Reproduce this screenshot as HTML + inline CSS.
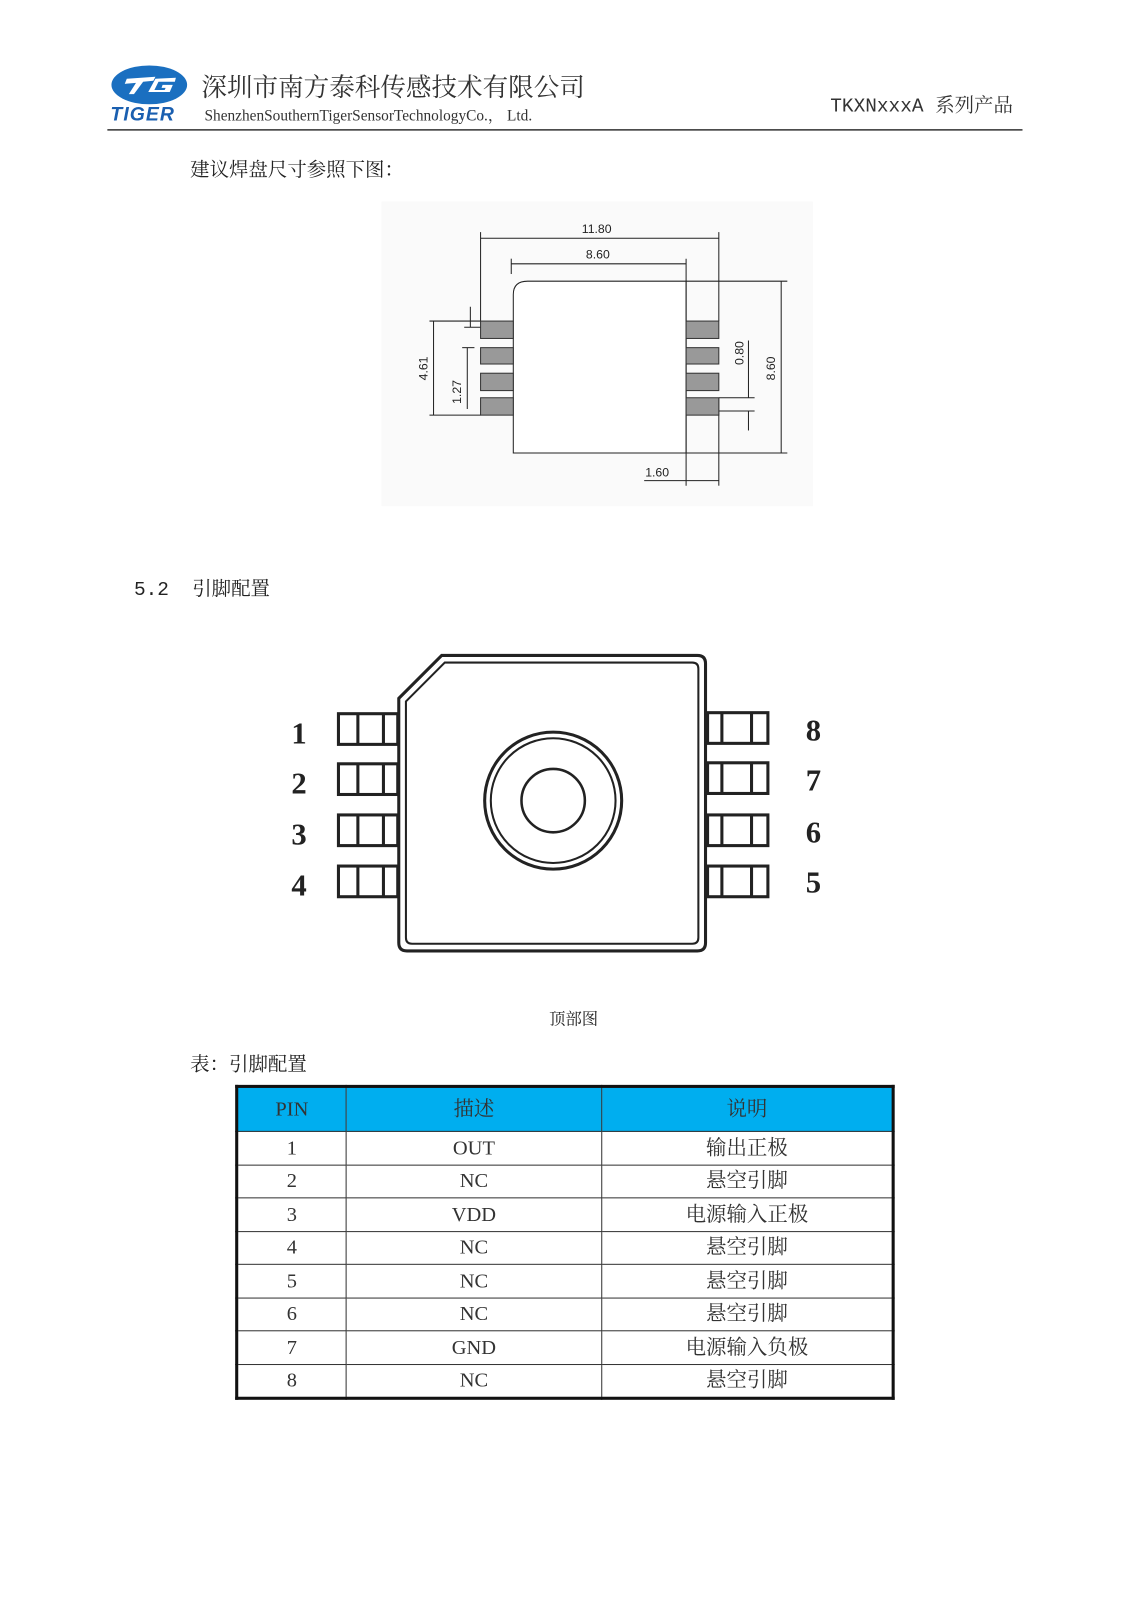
<!DOCTYPE html>
<html><head><meta charset="utf-8"><style>
body{margin:0;background:#fff;}
.wrap{width:1131px;height:1600px;overflow:hidden;position:relative;}
.pg{position:absolute;left:0;top:0;width:1131px;height:1600px;transform:scale(1.0225);transform-origin:0 0;font-family:"Liberation Serif","Noto Serif CJK SC",serif;color:#222;}
.t{position:absolute;white-space:nowrap;}
table{position:absolute;left:230px;top:1061px;width:645px;border-collapse:collapse;border:3px solid #111;font-family:"Liberation Serif","Noto Serif CJK SC",serif;font-size:20px;color:#333;}
td{border:1px solid #333;text-align:center;padding:0;height:31.5px;line-height:26px;}
tr.h td{background:#00aeef;height:42px;}
</style></head><body><div class="wrap"><div class="pg">
<svg width="1131" height="1600" style="position:absolute;left:0;top:0">
<ellipse cx="146" cy="83" rx="37" ry="19" fill="#1a6fc0"/>
<path d="M124 77 L152 75 L150 79 L140 80 L131 92 L126 92 L133 81 L122 82Z" fill="#fff"/>
<path d="M172 76 L152 77 L145 90 L166 90 L169 83 L159 83 L158 86 L162 86 L161 88 L151 88 L155 80 L171 80Z" fill="#fff"/>
<line x1="105" y1="127" x2="1000" y2="127" stroke="#333" stroke-width="1.5"/>
<rect x="373" y="197" width="422" height="298" fill="#fafafa"/>
<g stroke="#222" stroke-width="1" fill="none">
<path d="M502 443 L502 288 Q502 275 516 275 L671 275 L671 443 Z" fill="#fff"/>
<line x1="470" y1="233" x2="703" y2="233"/><line x1="470" y1="227" x2="470" y2="314"/><line x1="703" y1="227" x2="703" y2="314"/>
<line x1="500" y1="258" x2="671" y2="258"/><line x1="500" y1="253" x2="500" y2="268"/><line x1="671" y1="253" x2="671" y2="475"/>
<line x1="703" y1="389" x2="703" y2="475"/>
<line x1="671" y1="275" x2="770" y2="275"/><line x1="671" y1="443" x2="770" y2="443"/>
<line x1="764" y1="275" x2="764" y2="443"/>
<line x1="630" y1="470" x2="703" y2="470"/>
<line x1="420" y1="314" x2="470" y2="314"/><line x1="420" y1="406" x2="470" y2="406"/>
<line x1="424" y1="314" x2="424" y2="406"/>
<line x1="457" y1="340" x2="457" y2="400"/><line x1="452" y1="340" x2="464" y2="340"/>
<line x1="460" y1="300" x2="460" y2="320"/><line x1="454" y1="320" x2="470" y2="320"/>
<line x1="703" y1="389" x2="738" y2="389"/><line x1="703" y1="402" x2="738" y2="402"/>
<line x1="732" y1="333" x2="732" y2="389"/><line x1="732" y1="402" x2="732" y2="421"/>
</g>
<g fill="#999" stroke="#333" stroke-width="1">
<rect x="470" y="314" width="32" height="17"/><rect x="470" y="340" width="32" height="16"/><rect x="470" y="365" width="32" height="17"/><rect x="470" y="389" width="32" height="17"/>
<rect x="671" y="314" width="32" height="17"/><rect x="671" y="340" width="32" height="16"/><rect x="671" y="365" width="32" height="17"/><rect x="671" y="389" width="32" height="17"/>
</g>
<g font-family="Liberation Sans,sans-serif" font-size="12" fill="#222">
<text x="569" y="228">11.80</text><text x="573" y="253">8.60</text><text x="631" y="466">1.60</text>
<text transform="translate(418,372) rotate(-90)">4.61</text>
<text transform="translate(451,395) rotate(-90)">1.27</text>
<text transform="translate(727,357) rotate(-90)">0.80</text>
<text transform="translate(758,372) rotate(-90)">8.60</text>
</g>
<g stroke="#222" fill="#fff">
<path d="M390 683 L432 641 L682 641 Q690 641 690 649 L690 922 Q690 930 682 930 L398 930 Q390 930 390 922 Z" stroke-width="3"/>
<path d="M397 686 L435 648 L677 648 Q683 648 683 654 L683 917 Q683 923 677 923 L403 923 Q397 923 397 917 Z" stroke-width="2"/>
<circle cx="541" cy="783" r="67" stroke-width="3"/><circle cx="541" cy="783" r="61" stroke-width="2"/>
<circle cx="541" cy="783" r="31" stroke-width="2.5"/>
</g>
<g stroke="#222" stroke-width="3" fill="none">
<rect x="331" y="698" width="58" height="30"/><line x1="350" y1="698" x2="350" y2="728"/><line x1="375" y1="698" x2="375" y2="728"/>
<rect x="331" y="747" width="58" height="30"/><line x1="350" y1="747" x2="350" y2="777"/><line x1="375" y1="747" x2="375" y2="777"/>
<rect x="331" y="797" width="58" height="30"/><line x1="350" y1="797" x2="350" y2="827"/><line x1="375" y1="797" x2="375" y2="827"/>
<rect x="331" y="847" width="58" height="30"/><line x1="350" y1="847" x2="350" y2="877"/><line x1="375" y1="847" x2="375" y2="877"/>
<rect x="692" y="697" width="59" height="30"/><line x1="706" y1="697" x2="706" y2="727"/><line x1="735" y1="697" x2="735" y2="727"/>
<rect x="692" y="746" width="59" height="30"/><line x1="706" y1="746" x2="706" y2="776"/><line x1="735" y1="746" x2="735" y2="776"/>
<rect x="692" y="797" width="59" height="30"/><line x1="706" y1="797" x2="706" y2="827"/><line x1="735" y1="797" x2="735" y2="827"/>
<rect x="692" y="847" width="59" height="30"/><line x1="706" y1="847" x2="706" y2="877"/><line x1="735" y1="847" x2="735" y2="877"/>
</g>
<g font-family="Liberation Serif,serif" font-weight="bold" font-size="30" fill="#222">
<text x="285" y="727">1</text><text x="285" y="776">2</text><text x="285" y="826">3</text><text x="285" y="876">4</text>
<text x="788" y="724">8</text><text x="788" y="773">7</text><text x="788" y="824">6</text><text x="788" y="873">5</text>
</g>
</svg>
<div class="t" style="left:108px;top:102px;font:italic bold 19px 'Liberation Sans',sans-serif;color:#1a5fb0;letter-spacing:1px">TIGER</div>
<div class="t" style="left:197px;top:66px;font-size:25px;color:#333">深圳市南方泰科传感技术有限公司</div>
<div class="t" style="left:200px;top:102px;font-size:15px;color:#333">ShenzhenSouthernTigerSensorTechnologyCo.， Ltd.</div>
<div class="t" style="left:812px;top:88px;font-size:19px;color:#333;font-family:'Liberation Mono','Noto Serif CJK SC',monospace">TKXNxxxA 系列产品</div>
<div class="t" style="left:186px;top:151px;font-size:19px">建议焊盘尺寸参照下图：</div>
<div class="t" style="left:131px;top:561px;font-size:19px;font-family:'Liberation Mono','Noto Serif CJK SC',monospace">5.2&nbsp;&nbsp;引脚配置</div>
<div class="t" style="left:537px;top:984px;font-size:16px">顶部图</div>
<div class="t" style="left:186px;top:1026px;font-size:19px">表：引脚配置</div>
<table>
<tr class="h"><td style="width:105px">PIN</td><td style="width:249px">描述</td><td>说明</td></tr>
<tr><td>1</td><td>OUT</td><td>输出正极</td></tr>
<tr><td>2</td><td>NC</td><td>悬空引脚</td></tr>
<tr><td>3</td><td>VDD</td><td>电源输入正极</td></tr>
<tr><td>4</td><td>NC</td><td>悬空引脚</td></tr>
<tr><td>5</td><td>NC</td><td>悬空引脚</td></tr>
<tr><td>6</td><td>NC</td><td>悬空引脚</td></tr>
<tr><td>7</td><td>GND</td><td>电源输入负极</td></tr>
<tr><td>8</td><td>NC</td><td>悬空引脚</td></tr>
</table>
</div></div></body></html>
